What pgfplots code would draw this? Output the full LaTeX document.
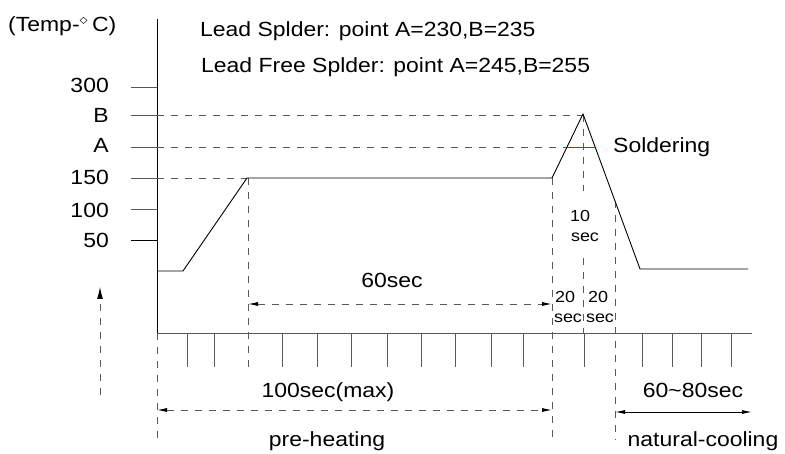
\documentclass[border=0pt]{standalone}
\usepackage{graphicx}
\usepackage{fontspec}
\setmainfont{Liberation Sans}
\usepackage{pgfplots}
\pgfplotsset{compat=1.18}
\usetikzlibrary{arrows.meta}
\definecolor{dg}{gray}{0.35}
\newcommand{\T}[1]{\scalebox{1.12}[1]{\fontsize{20.5}{24}\selectfont #1}}
\newcommand{\Ts}[1]{\scalebox{1.12}[1]{\fontsize{16}{19}\selectfont #1}}
\begin{document}
\begin{tikzpicture}
\begin{axis}[x=1pt,y=1pt,xmin=0,xmax=785,ymin=0,ymax=454,hide axis,clip=false,no markers,
  every axis plot/.append style={line width=0.9pt},
  dsh/.style={dg,dash pattern=on 7pt off 7pt},
  tip/.style={-{Latex[length=12pt,width=6pt,color=black]}},
  tips/.style={{Latex[length=10pt,width=4pt,color=black]}-{Latex[length=10pt,width=4pt,color=black]}}]
\addplot[draw=none] coordinates {(0,0) (785,454)};
% axes
\addplot[black] coordinates {(157,435) (157,121)};
\addplot[dg] coordinates {(157,121) (752,121)};
% y ticks
\addplot[dg] coordinates {(131,367) (157,367)};
\addplot[dg] coordinates {(131,339) (157,339)};
\addplot[dg] coordinates {(131,307) (157,307)};
\addplot[dg] coordinates {(131,276) (157,276)};
\addplot[dg] coordinates {(131,245) (157,245)};
\addplot[black] coordinates {(131,214) (157,214)};
% x ticks
\foreach \xx in {187,214,282,317,351,387,421,455,491,523,584,642,672,701,731}{
  \edef\temp{\noexpand\addplot[dg] coordinates {(\xx,121) (\xx,87)};}\temp
}
% horizontal dashed
\addplot[dsh] coordinates {(157,339) (583,339)};
\addplot[dsh] coordinates {(157,307) (567,307)};
\addplot[dsh] coordinates {(157,276) (247,276)};
% vertical dashed
\addplot[dsh] coordinates {(248,276) (248,87)};
\addplot[dsh] coordinates {(552,276) (552,14)};
\addplot[dsh] coordinates {(583,339) (583,263)};
\addplot[dsh] coordinates {(583,196) (583,121)};
\addplot[dsh] coordinates {(615,253) (615,14)};
\addplot[dsh] coordinates {(157,121) (157,14)};
% profile
\addplot[black] coordinates {(157,183) (183,183) (247,276) (552,276) (583,340) (640,185) (748,185)};
\addplot[red] coordinates {(567,306.5) (595,306.5)};
% arrows
\addplot[dsh,tip] coordinates {(100,59) (100,167)};
\addplot[dsh,tips] coordinates {(248,150) (552,150)};
\addplot[dsh,tips] coordinates {(157,44) (552,44)};
\addplot[black,tips] coordinates {(615,42) (752,42)};
% text
\node[inner sep=0pt,anchor=base west] at (8,422) {\T{(Temp-$^{\diamond}$\,C)}};
\node[inner sep=0pt,anchor=base west] at (200,417) {\T{Lead Splder: point A=230,B=235}};
\node[inner sep=0pt,anchor=base west] at (201,381) {\T{Lead Free Splder: point A=245,B=255}};
\node[inner sep=0pt,anchor=base east] at (109,361) {\T{300}};
\node[inner sep=0pt,anchor=base east] at (109,331) {\T{B}};
\node[inner sep=0pt,anchor=base east] at (109,301) {\T{A}};
\node[inner sep=0pt,anchor=base east] at (109,269) {\T{150}};
\node[inner sep=0pt,anchor=base east] at (109,236) {\T{100}};
\node[inner sep=0pt,anchor=base east] at (109,206) {\T{50}};
\node[inner sep=0pt,anchor=base west] at (613,301) {\T{Soldering}};
\node[inner sep=0pt,anchor=base] at (580,232) {\Ts{10}};
\node[inner sep=0pt,anchor=base] at (585,212) {\Ts{sec}};
\node[inner sep=0pt,anchor=base] at (565,151) {\Ts{20}};
\node[inner sep=0pt,anchor=base] at (568,131) {\Ts{sec}};
\node[inner sep=0pt,anchor=base] at (598,151) {\Ts{20}};
\node[inner sep=0pt,anchor=base] at (600,131) {\Ts{sec}};
\node[inner sep=0pt,anchor=base] at (392,166) {\T{60sec}};
\node[inner sep=0pt,anchor=base] at (328,56) {\T{100sec(max)}};
\node[inner sep=0pt,anchor=base] at (327,7) {\T{pre-heating}};
\node[inner sep=0pt,anchor=base] at (693,56) {\T{60\textasciitilde 80sec}};
\node[inner sep=0pt,anchor=base] at (703,7) {\T{natural-cooling}};
\end{axis}
\end{tikzpicture}
\end{document}
